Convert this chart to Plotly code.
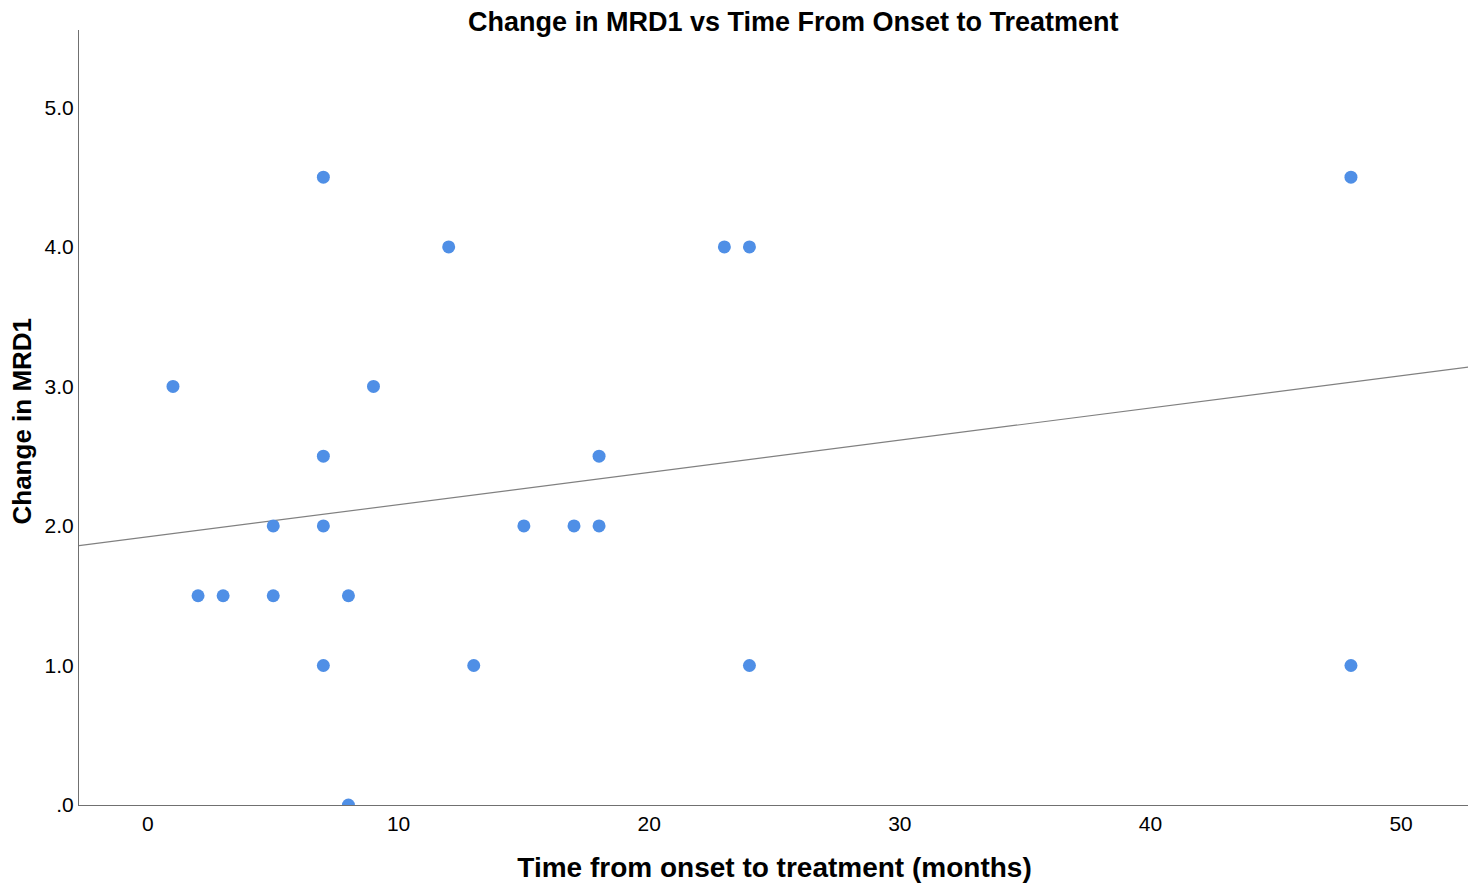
import plotly.graph_objects as go

# months from onset to treatment vs change in MRD1
time_months = [1, 2, 3, 5, 5, 7, 7, 7, 7, 8, 8, 9, 12, 13, 15, 17, 18, 18, 23, 24, 24, 48, 48]
mrd1_change = [3.0, 1.5, 1.5, 2.0, 1.5, 4.5, 2.5, 2.0, 1.0, 1.5, 0.0, 3.0, 4.0, 1.0, 2.0, 2.0, 2.5, 2.0, 4.0, 4.0, 1.0, 4.5, 1.0]

# fit line as drawn
fit_intercept = 1.922
fit_slope = 0.0231

x_range = [-2.75, 52.75]
y_range = [0, 5.555]

x_ticks = [0, 10, 20, 30, 40, 50]
y_ticks = [0, 1, 2, 3, 4, 5]
y_ticklabels = [".0", "1.0", "2.0", "3.0", "4.0", "5.0"]

fig = go.Figure()

fig.add_trace(go.Scatter(
    x=x_range,
    y=[fit_intercept + fit_slope * x for x in x_range],
    mode="lines",
    line=dict(color="#808080", width=1.2),
    hoverinfo="skip",
    showlegend=False,
))

fig.add_trace(go.Scatter(
    x=time_months, y=mrd1_change,
    mode="markers",
    marker=dict(color="#4F8FE6", size=13),
    cliponaxis=True,
    showlegend=False,
))

fig.update_layout(
    width=1476, height=886,
    margin=dict(l=71, r=14, t=22, b=89),
    paper_bgcolor="white",
    plot_bgcolor="white",
    font=dict(family="Liberation Sans, Arial, sans-serif", color="black", size=21),
    title=dict(
        text="<b>Change in MRD1 vs Time From Onset to Treatment</b>",
        x=0.532, xanchor="center", y=1.0, yanchor="top",
        pad=dict(t=4),
        font=dict(size=27),
    ),
)

# y-axis title placed by hand so it sits close to the left edge
fig.add_annotation(
    text="<b>Change in MRD1</b>",
    xref="paper", yref="paper", x=0, y=0.5,
    xshift=-58, yshift=-4,
    xanchor="center", yanchor="middle",
    textangle=-90, showarrow=False,
    font=dict(size=26),
)

fig.update_xaxes(
    range=x_range,
    tickvals=x_ticks,
    showgrid=False, zeroline=False,
    showline=True, linecolor="#707070", linewidth=1.2,
    ticks="", ticklen=0,
    tickfont=dict(size=21),
    automargin=False,
    title=dict(text="<b>Time from onset to treatment (months)</b>", font=dict(size=28), standoff=23),
)

fig.update_yaxes(
    range=y_range,
    tickvals=y_ticks,
    ticktext=y_ticklabels,
    showgrid=False, zeroline=False,
    showline=True, linecolor="#707070", linewidth=1.2,
    ticks="", ticklen=0,
    tickfont=dict(size=21),
    automargin=False,
)

fig.write_html("out.html")
